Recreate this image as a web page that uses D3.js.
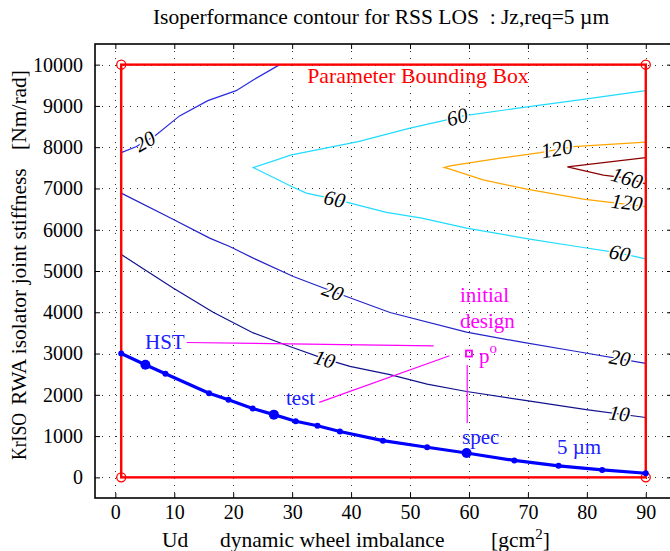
<!DOCTYPE html>
<html>
<head>
<meta charset="utf-8">
<script src="https://cdn.jsdelivr.net/npm/d3@7"></script>
<style>
  body { margin: 0; background: #fff; }
  svg { display: block; }
  text { font-family: "Liberation Serif", "Times New Roman", serif; }
</style>
</head>
<body>
<svg id="chart" width="670" height="551"></svg>
<script>
// ---- axes ----
const xTicks = d3.range(0, 91, 10);
const yTicks = d3.range(0, 10001, 1000);

// ---- parameter bounding box (Ud, KrISO) ----
const boxX = [1, 90];
const boxY = [0, 10000];

// ---- 5 µm isoperformance curve ----
const iso5X = [1, 5.1, 8.5, 15.9, 19.2, 23.3, 26.9, 30.6, 34.3, 38.1, 45.4, 52.9, 59.6, 67.7, 75.2, 82.6, 90];
const iso5Y = [3000, 2730, 2510, 2040, 1880, 1670, 1520, 1360, 1250, 1110, 890, 730, 590, 410, 280, 180, 100];
// indices of the HST, test and spec designs on the 5 µm curve
const iso5Designs = [1, 6, 12];

// ---- Jz contours ----
const c10X = [1, 5, 9.8, 16.6, 23.4, 29.6, 35.5, 39.8, 46.6, 52.9, 59.6, 69.8, 79.9, 90];
const c10Y = [5400, 5030, 4590, 4000, 3500, 3170, 2870, 2690, 2490, 2260, 2080, 1860, 1640, 1450];

const c20aX = [1, 9.2, 16, 19.4, 23.4, 30.2, 36.9, 46.6, 59.6, 69.2, 78.3, 90];
const c20aY = [6886, 6295, 5797, 5593, 5312, 4867, 4504, 3995, 3521, 3269, 3050, 2760];

const c20bX = [1, 3.5, 6.7, 10.9, 15.7, 20.5, 23.4, 27.9];
const c20bY = [7869, 8010, 8273, 8758, 9128, 9370, 9630, 10000];

const c60X = [90, 80, 68, 59, 56.8, 50, 41.2, 29.9, 23.4, 29.9, 32.4, 37.2, 46, 52, 59.6, 70.3, 78.3, 85.6, 90];
const c60Y = [9370, 9170, 8940, 8758, 8678, 8460, 8136, 7813, 7506, 7046, 6886, 6741, 6420, 6280, 6039, 5773, 5593, 5433, 5295];

const c120X = [90, 77.7, 72.1, 65.3, 56.8, 55.8, 56.8, 62.4, 69.8, 79.4, 90];
const c120Y = [8121, 8015, 7869, 7734, 7548, 7506, 7467, 7208, 6983, 6741, 6562];

const c160X = [90, 76.7, 82.8, 86.8, 90];
const c160Y = [7748, 7523, 7322, 7249, 7111];

const contourXs = [c10X, c20aX, c20bX, c60X, c120X, c160X];
const contourYs = [c10Y, c20aY, c20bY, c60Y, c120Y, c160Y];
const contourColors = ["#12128f", "#2323c8", "#2a2ae0", "#1fdcff", "#ffa500", "#8b0000"];

// ---- contour labels ----
const labelText = ["20", "60", "60", "60", "120", "160", "120", "20", "20", "10", "10"];
const labelOn   = [2, 3, 3, 3, 4, 5, 4, 1, 1, 0, 0];
const labelX    = [5, 58, 37.2, 85.6, 74.9, 86.8, 86.8, 36.9, 85.6, 35.5, 85.5];
const labelY    = [8140, 8730, 6741, 5433, 7960, 7249, 6659, 4504, 2890, 2860, 1545];

// ---- design annotations ----
const poX = 60, poY = 3000;
const specLineX = [59.7, 59.7], specLineY = [2725, 1317];
const hstLineX = [12.1, 54], hstLineY = [3268, 3188];
const testLineX = [34.6, 56.7], testLineY = [1816, 2946];

const svg = d3.select("#chart");
const plot = { left: 95, right: 672, top: 44, bottom: 498 };

const x = d3.scaleLinear().domain([-3.45, 94.45]).range([plot.left, plot.right]);
const y = d3.scaleLinear().domain([-500, 10500]).range([plot.bottom, plot.top]);

svg.append("defs").append("clipPath").attr("id", "plotclip")
  .append("rect").attr("x", plot.left).attr("y", plot.top)
  .attr("width", plot.right - plot.left).attr("height", plot.bottom - plot.top);

// dotted grid
const grid = svg.append("g").attr("stroke", "#333").attr("stroke-width", 1)
  .attr("stroke-dasharray", "1,6");
grid.selectAll("line.v").data(xTicks).join("line").attr("class", "v")
  .attr("x1", d => Math.round(x(d)) + 0.5).attr("x2", d => Math.round(x(d)) + 0.5)
  .attr("y1", plot.top).attr("y2", plot.bottom);
grid.selectAll("line.h").data(yTicks).join("line").attr("class", "h")
  .attr("y1", d => Math.round(y(d)) + 0.5).attr("y2", d => Math.round(y(d)) + 0.5)
  .attr("x1", plot.left).attr("x2", plot.right);

// axes with inward ticks on all four sides
const fs = 20;
const ax = svg.append("g").attr("transform", `translate(0,${plot.bottom})`)
  .call(d3.axisBottom(x).tickValues(xTicks).tickSize(-5).tickPadding(7));
const ay = svg.append("g").attr("transform", `translate(${plot.left},0)`)
  .call(d3.axisLeft(y).tickValues(yTicks).tickSize(-5).tickPadding(12).tickFormat(d3.format("d")));
const at = svg.append("g").attr("transform", `translate(0,${plot.top})`)
  .call(d3.axisTop(x).tickValues(xTicks).tickSize(-5).tickFormat(""));
const ar = svg.append("g").attr("transform", `translate(${plot.right},0)`)
  .call(d3.axisRight(y).tickValues(yTicks).tickSize(-5).tickFormat(""));
[ax, ay, at, ar].forEach(g => {
  g.select(".domain").remove();
  g.selectAll("line").attr("stroke", "#000");
  g.selectAll("text").attr("font-size", fs).attr("fill", "#000")
    .attr("font-family", "Liberation Serif, Times New Roman, serif");
});
svg.append("rect").attr("x", plot.left).attr("y", plot.top)
  .attr("width", plot.right - plot.left).attr("height", plot.bottom - plot.top)
  .attr("fill", "none").attr("stroke", "#000").attr("stroke-width", 1.6);

const body = svg.append("g").attr("clip-path", "url(#plotclip)");
const line = d3.line();
const pts = (xs, ys) => xs.map((v, i) => [x(v), y(ys[i])]);

// contour lines
contourXs.forEach((xs, k) => {
  body.append("path").attr("d", line(pts(xs, contourYs[k])))
    .attr("fill", "none").attr("stroke", contourColors[k]).attr("stroke-width", 1.2);
});

// bounding box
body.append("rect").attr("x", x(boxX[0])).attr("y", y(boxY[1]))
  .attr("width", x(boxX[1]) - x(boxX[0])).attr("height", y(boxY[0]) - y(boxY[1]))
  .attr("fill", "none").attr("stroke", "#ff0000").attr("stroke-width", 2.4);
const corners = [[boxX[0], boxY[0]], [boxX[0], boxY[1]], [boxX[1], boxY[0]], [boxX[1], boxY[1]]];
body.selectAll("circle.corner").data(corners).join("circle").attr("class", "corner")
  .attr("cx", d => x(d[0])).attr("cy", d => y(d[1])).attr("r", 4.5)
  .attr("fill", "none").attr("stroke", "#ff0000").attr("stroke-width", 1.3);
body.append("text").attr("x", 418).attr("y", y(9730)).attr("text-anchor", "middle")
  .attr("dominant-baseline", "central").attr("fill", "#ff0000").attr("font-size", 21.8)
  .text("Parameter Bounding Box");

// 5 µm curve
body.append("path").attr("d", line(pts(iso5X, iso5Y)))
  .attr("fill", "none").attr("stroke", "#0000ff").attr("stroke-width", 3.2);
body.selectAll("circle.iso").data(iso5X.map((v, i) => i)).join("circle").attr("class", "iso")
  .attr("cx", i => x(iso5X[i])).attr("cy", i => y(iso5Y[i]))
  .attr("r", i => iso5Designs.includes(i) ? 5 : 3).attr("fill", "#0000ff");

// contour labels, rotated along the local contour direction
function angleAt(k, lx, ly) {
  const p = pts(contourXs[k], contourYs[k]);
  const px = x(lx), py = y(ly);
  let best = 0, bd = Infinity;
  for (let i = 0; i < p.length - 1; i++) {
    const mx = (p[i][0] + p[i + 1][0]) / 2, my = (p[i][1] + p[i + 1][1]) / 2;
    const d = (mx - px) ** 2 + (my - py) ** 2;
    if (d < bd) { bd = d; best = i; }
  }
  let a = Math.atan2(p[best + 1][1] - p[best][1], p[best + 1][0] - p[best][0]) * 180 / Math.PI;
  if (a > 90) a -= 180;
  if (a < -90) a += 180;
  return a;
}
labelText.forEach((t, i) => {
  const a = angleAt(labelOn[i], labelX[i], labelY[i]);
  body.append("text")
    .attr("transform", `translate(${x(labelX[i])},${y(labelY[i])}) rotate(${a})`)
    .attr("text-anchor", "middle").attr("dominant-baseline", "central")
    .attr("font-size", 21).attr("font-style", "italic").attr("fill", "#000")
    .attr("stroke", "#fff").attr("stroke-width", 3).attr("paint-order", "stroke")
    .text(t);
});

// design annotations
const mag = "#ff00ff", blu = "#2020ff";
body.append("path").attr("d", line(pts(hstLineX, hstLineY))).attr("stroke", mag).attr("stroke-width", 1.2).attr("fill", "none");
body.append("path").attr("d", line(pts(testLineX, testLineY))).attr("stroke", mag).attr("stroke-width", 1.2).attr("fill", "none");
body.append("path").attr("d", line(pts(specLineX, specLineY))).attr("stroke", mag).attr("stroke-width", 1.2).attr("fill", "none");
body.append("rect").attr("x", x(poX) - 3).attr("y", y(poY) - 3).attr("width", 6).attr("height", 6)
  .attr("fill", "none").attr("stroke", mag).attr("stroke-width", 1.8);

function note(tx, ty, str, color, anchor) {
  return body.append("text").attr("x", tx).attr("y", ty).attr("fill", color)
    .attr("font-size", 21).attr("text-anchor", anchor || "start")
    .attr("dominant-baseline", "central").text(str);
}
note(460, 295, "initial", mag);
note(460, 321, "design", mag);
const po = note(479, 356, "p", mag);
po.append("tspan").attr("dy", -8).attr("font-size", 15).text("o");
note(145, 342, "HST", blu);
note(286, 398, "test", blu);
note(462, 437, "spec", blu);
note(557, 447, "5 µm", blu);

// titles
svg.append("text").attr("x", 381).attr("y", 17).attr("text-anchor", "middle")
  .attr("dominant-baseline", "central").attr("font-size", 21.5)
  .attr("xml:space", "preserve").style("white-space", "pre")
  .text("Isoperformance contour for RSS LOS  : Jz,req=5 µm");

const xl = [["Ud", 162], ["dynamic wheel imbalance", 220]];
xl.forEach(([s, px]) => svg.append("text").attr("x", px).attr("y", 547)
  .attr("font-size", 21.5).text(s));
const gl = svg.append("text").attr("x", 491).attr("y", 547).attr("font-size", 21.5).text("[gcm");
gl.append("tspan").attr("dy", -8).attr("font-size", 15).text("2");
gl.append("tspan").attr("dy", 8).text("]");

// y label in three pieces along the left edge
const ylText = ["KrISO", "RWA isolator joint stiffness", "[Nm/rad]"];
const ylPos = [460, 405, 150];
ylText.forEach((s, i) => {
  const t = svg.append("text")
    .attr("transform", `translate(26,${ylPos[i]}) rotate(-90)`)
    .attr("font-size", 21.5).text(s);
  if (i === 0) t.attr("textLength", 47).attr("lengthAdjust", "spacingAndGlyphs");
});
</script>
</body>
</html>
